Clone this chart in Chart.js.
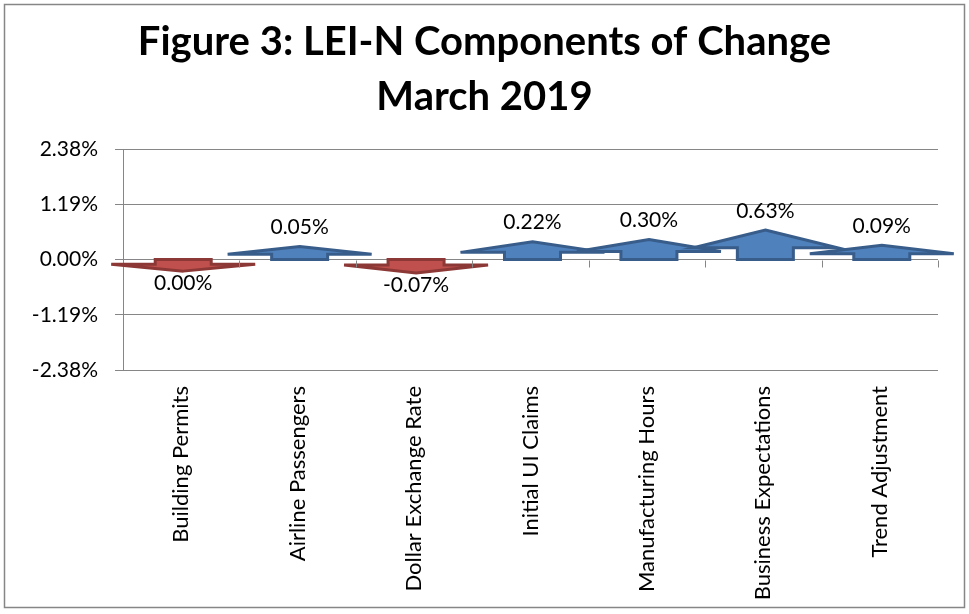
<!DOCTYPE html>
<html>
<head>
<meta charset="utf-8">
<title>Figure 3: LEI-N Components of Change</title>
<script src="https://cdn.jsdelivr.net/npm/chart.js@4.4.1/dist/chart.umd.min.js"></script>
<style>
	html, body { margin: 0; padding: 0; background: #fff; }
	#wrap { position: relative; width: 969px; height: 614px; }
</style>
</head>
<body>
<div id="wrap"><canvas id="chart-lein"></canvas></div>
<script>
// Chart data
const categories = [
	"Building Permits",
	"Airline Passengers",
	"Dollar Exchange Rate",
	"Initial UI Claims",
	"Manufacturing Hours",
	"Business Expectations",
	"Trend Adjustment",
];
// percent change; building permits rounds to 0.00% but is shown as a decline
const changes = [-0.001, 0.05, -0.07, 0.22, 0.3, 0.63, 0.09];
const yTicks = [-2.38, -1.19, 0, 1.19, 2.38];
const titleLines = ["Figure 3: LEI-N Components of Change", "March 2019"];

const FONT = "Lato, 'Open Sans', sans-serif";
const GRID = "#868686";
const UP = { fill: "#4F81BD", line: "#385D8A" };
const DOWN = { fill: "#C0504D", line: "#8C3836" };

const fmt = (v) => {
	const s = v.toFixed(2);
	return (s === "-0.00" ? "0.00" : s) + "%";
};

// white background + outer frame
const framePlugin = {
	id: "frame",
	beforeDraw(chart) {
		const { ctx, width, height } = chart;
		ctx.save();
		ctx.fillStyle = "#fff";
		ctx.fillRect(0, 0, width, height);
		ctx.strokeStyle = GRID;
		ctx.lineWidth = 1.5;
		ctx.strokeRect(4.5, 4.5, width - 9, height - 11);
		ctx.restore();
	},
};

// small tick marks under the zero line between categories
const zeroTicksPlugin = {
	id: "zeroTicks",
	afterDraw(chart) {
		const { ctx, scales } = chart;
		const x = scales.x, y = scales.y;
		const y0 = Math.round(y.getPixelForValue(0)) + 0.5;
		const half = (x.getPixelForValue(1) - x.getPixelForValue(0)) / 2;
		ctx.save();
		ctx.strokeStyle = GRID;
		ctx.lineWidth = 1;
		ctx.beginPath();
		for (let i = 0; i < categories.length; i++) {
			const px = Math.round(x.getPixelForValue(i) + half) + 0.5;
			ctx.moveTo(px, y0);
			ctx.lineTo(px, y0 + 7);
		}
		ctx.stroke();
		ctx.restore();
	},
};

// arrow markers + value labels
const arrowPlugin = {
	id: "arrows",
	afterDatasetsDraw(chart) {
		const { ctx, scales } = chart;
		const x = scales.x, y = scales.y;
		const y0 = y.getPixelForValue(0);
		const headW = 72, shaftW = 28;

		changes.forEach((v, i) => {
			const cx = x.getPixelForValue(i) + 2;
			const vpx = Math.abs(y0 - y.getPixelForValue(v));
			const total = 11.6 + 0.61 * vpx;
			const head = 0.6 * total;
			const dir = v < 0 ? 1 : -1;
			const tip = y0 + dir * total;
			const wing = tip - dir * head;
			const c = v < 0 ? DOWN : UP;

			ctx.save();
			ctx.beginPath();
			ctx.moveTo(cx, tip);
			ctx.lineTo(cx + headW, wing);
			ctx.lineTo(cx + shaftW, wing);
			ctx.lineTo(cx + shaftW, y0);
			ctx.lineTo(cx - shaftW, y0);
			ctx.lineTo(cx - shaftW, wing);
			ctx.lineTo(cx - headW, wing);
			ctx.closePath();
			ctx.fillStyle = c.fill;
			ctx.fill();
			ctx.lineJoin = "miter";
			ctx.lineWidth = 3;
			ctx.strokeStyle = c.line;
			ctx.stroke();

			ctx.fillStyle = "#000";
			ctx.font = "21px " + FONT;
			ctx.textAlign = "center";
			ctx.textBaseline = "middle";
			ctx.fillText(fmt(v), cx, v < 0 ? tip + 12 : tip - 19);
			ctx.restore();
		});
	},
};

const DATA = {
	labels: categories,
	datasets: [
		{
			label: "Change",
			data: changes,
			backgroundColor: "rgba(0,0,0,0)",
			borderWidth: 0,
		},
	],
};

const CONFIG = {
	type: "bar",
	data: DATA,
	plugins: [framePlugin, zeroTicksPlugin, arrowPlugin],
	options: {
		responsive: true,
		maintainAspectRatio: false,
		animation: false,
		layout: {
			padding: { top: 5, left: 5, right: 5, bottom: 7 },
		},
		plugins: {
			legend: { display: false },
			tooltip: { enabled: false },
			title: {
				display: true,
				text: titleLines,
				color: "#000",
				font: { family: FONT, size: 40, weight: "bold", lineHeight: 55 / 40 },
				padding: { top: 10, bottom: 24 },
			},
		},
		scales: {
			x: {
				border: { display: false },
				grid: { display: false, drawTicks: false },
				ticks: {
					color: "#000",
					font: { family: FONT, size: 22 },
					maxRotation: 90,
					minRotation: 90,
					padding: 16,
				},
				afterFit(scale) {
					scale.height = 237;
				},
			},
			y: {
				min: -2.38,
				max: 2.38,
				border: { display: true, color: GRID, width: 1 },
				grid: { color: GRID, tickLength: 8, drawTicks: true },
				afterBuildTicks(scale) {
					scale.ticks = yTicks.map((v) => ({ value: v }));
				},
				ticks: {
					color: "#000",
					font: { family: FONT, size: 21 },
					padding: 17,
					callback: (v) => v.toFixed(2) + "%",
				},
				afterFit(scale) {
					scale.width = 118;
				},
			},
			// empty strip on the right so the plot ends where the original does
			y1: {
				position: "right",
				border: { display: false },
				grid: { display: false },
				ticks: { display: false },
				afterFit(scale) {
					scale.width = 26;
				},
			},
		},
	},
};

new Chart(document.getElementById("chart-lein"), CONFIG);
</script>
</body>
</html>
